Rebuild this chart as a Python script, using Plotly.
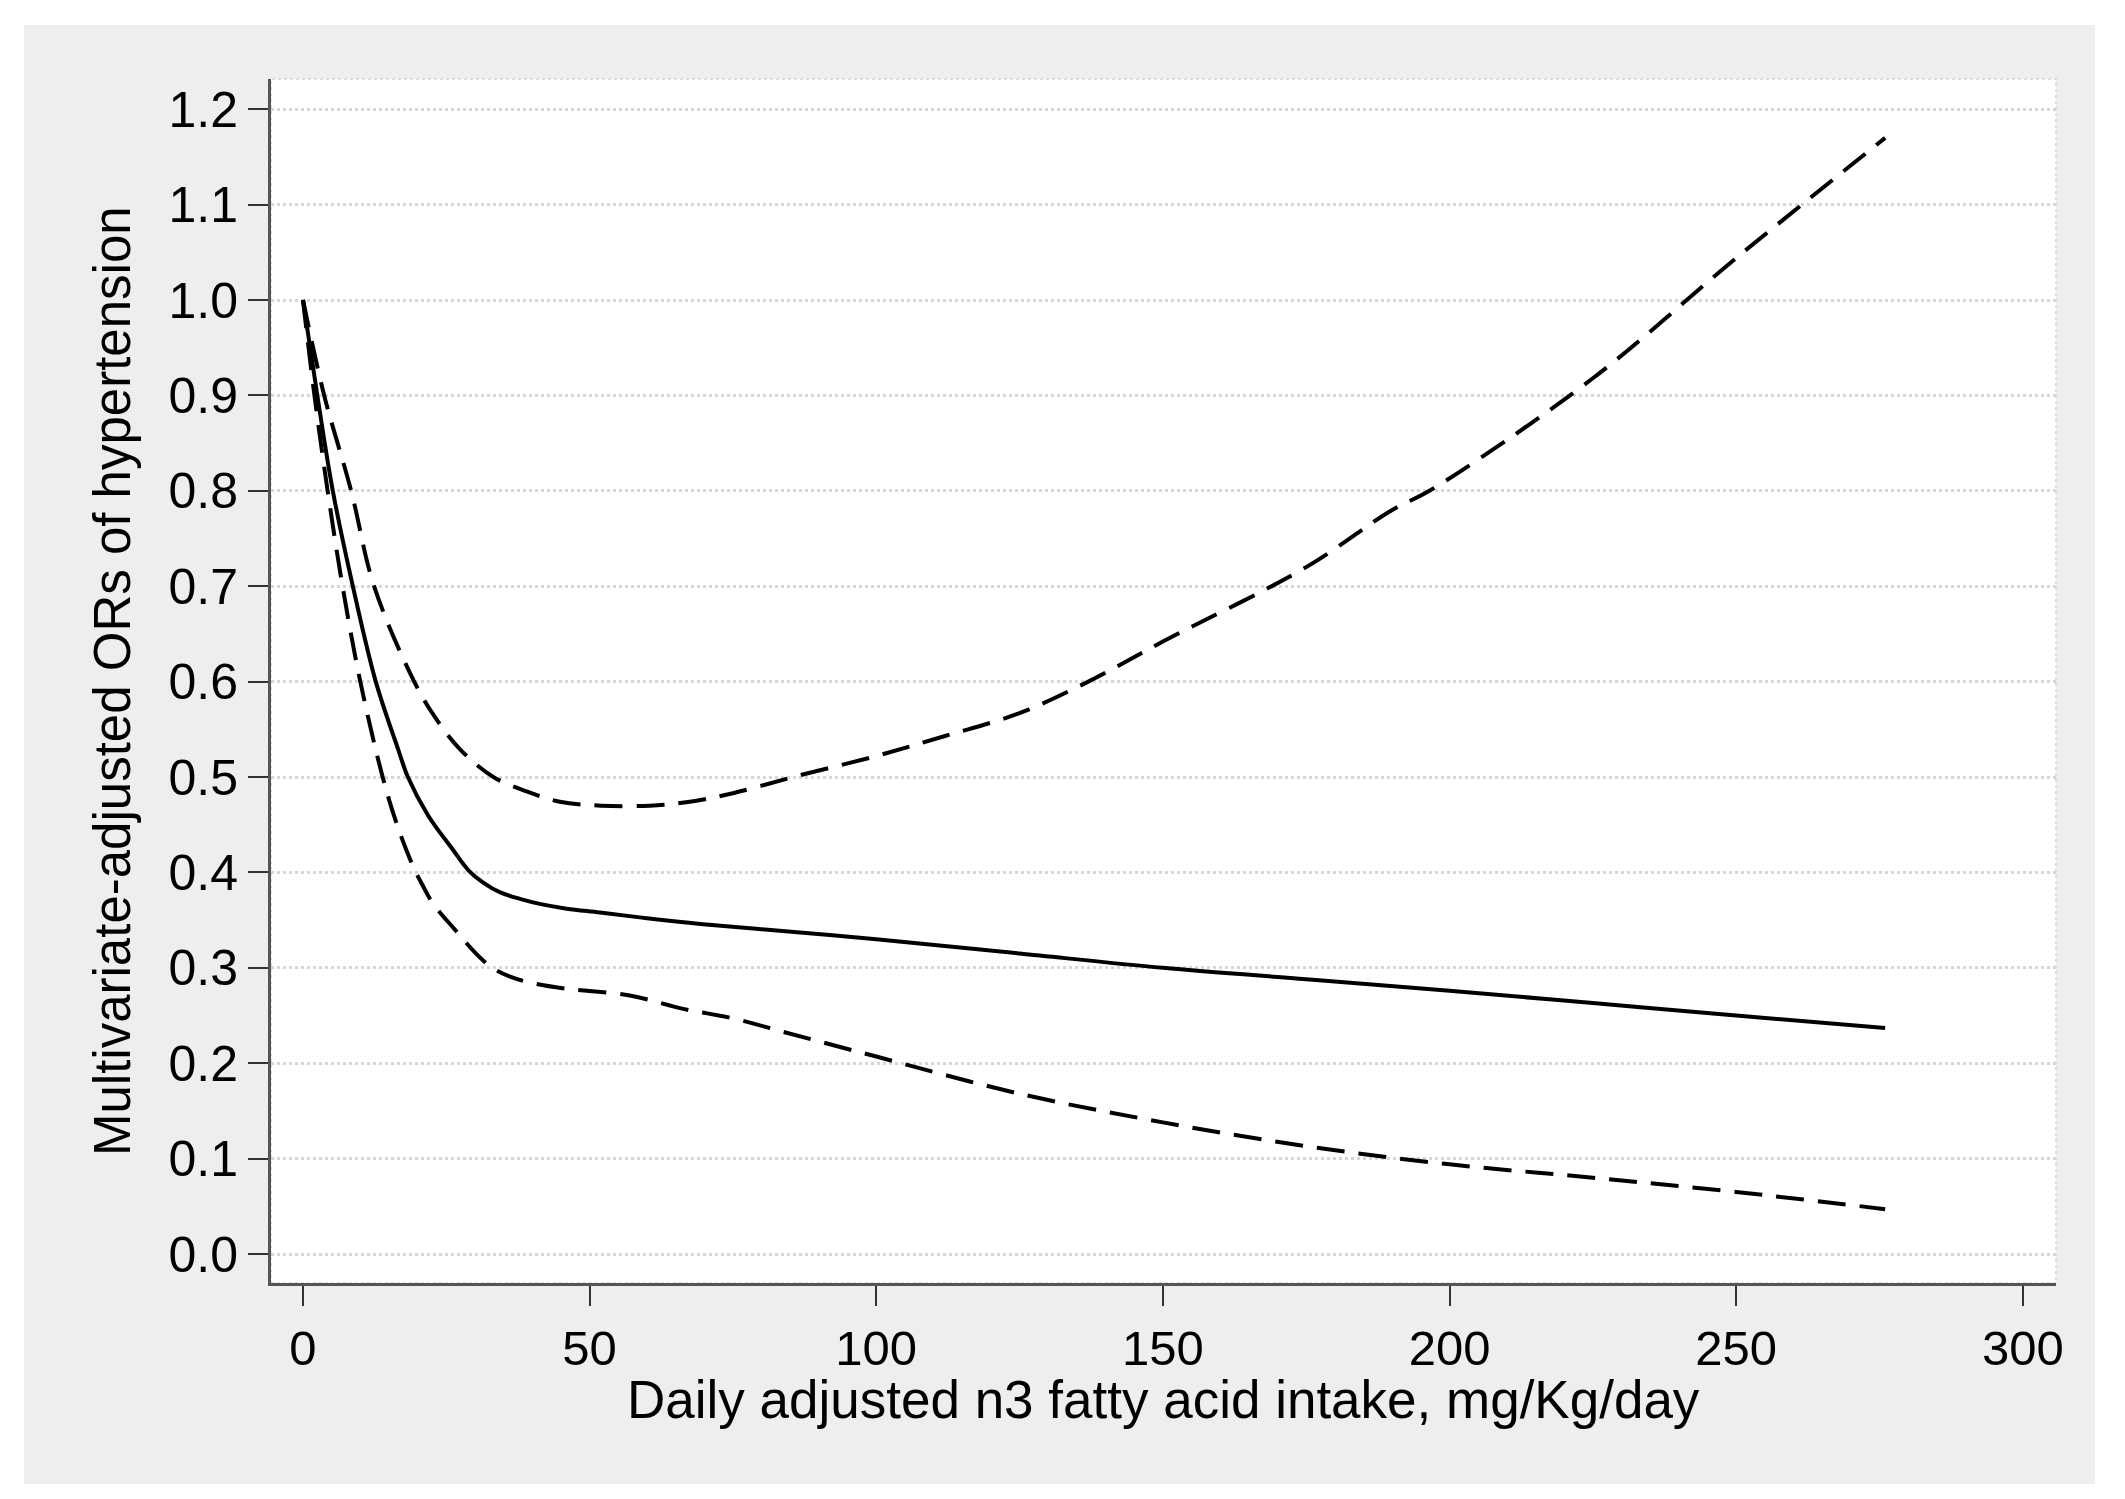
import plotly.graph_objects as go

# ---- data ----
or_x = [0, 2.5, 5.2, 8.7, 12.7, 16.6, 18.3, 21.8, 26, 28.9, 31.5, 34.4, 38, 41.3, 46, 51.8, 60, 69.3, 86.7, 100, 125, 150, 175, 200, 225, 250, 276]
or_y = [1.0, 0.9, 0.8, 0.7, 0.6, 0.529, 0.5, 0.46, 0.425, 0.402, 0.389, 0.379, 0.372, 0.367, 0.362, 0.358, 0.352, 0.346, 0.337, 0.33, 0.315, 0.30, 0.288, 0.276, 0.263, 0.25, 0.237]

lo_x = [0, 2, 4.3, 6.9, 10, 13.9, 16.4, 19.3, 21, 22.6, 26.5, 30.5, 33, 36, 40, 46, 57, 66.3, 75, 83.7, 100, 125, 150, 175, 200, 225, 250, 276]
lo_y = [1.0, 0.9, 0.8, 0.7, 0.6, 0.5, 0.45, 0.405, 0.385, 0.368, 0.34, 0.313, 0.3, 0.291, 0.284, 0.278, 0.271, 0.257, 0.247, 0.233, 0.207, 0.168, 0.138, 0.113, 0.094, 0.08, 0.065, 0.047]

up_x = [0, 3.7, 8.4, 12.4, 19.4, 23, 27.4, 33.2, 39, 44.8, 52, 60.5, 67.5, 75, 85.5, 100, 112, 125, 137, 150, 175, 190, 196.5, 225, 250, 276]
up_y = [1.0, 0.9, 0.8, 0.7, 0.6, 0.563, 0.529, 0.5, 0.485, 0.474, 0.470, 0.470, 0.474, 0.483, 0.5, 0.522, 0.543, 0.567, 0.6, 0.642, 0.72, 0.78, 0.80, 0.918, 1.044, 1.17]

x_ticks = [0, 50, 100, 150, 200, 250, 300]
y_ticks = [0.0, 0.1, 0.2, 0.3, 0.4, 0.5, 0.6, 0.7, 0.8, 0.9, 1.0, 1.1, 1.2]

x_title = "Daily adjusted n3 fatty acid intake, mg/Kg/day"
y_title = "Multivariate-adjusted ORs of hypertension"

FONT = "Liberation Sans, Arial, Helvetica, sans-serif"

fig = go.Figure()
dash_line = dict(color="black", width=4, dash="28px,14px", shape="spline", smoothing=1.0)
fig.add_trace(go.Scatter(x=up_x, y=up_y, mode="lines", line=dash_line, showlegend=False))
fig.add_trace(go.Scatter(x=lo_x, y=lo_y, mode="lines", line=dash_line, showlegend=False))
fig.add_trace(go.Scatter(x=or_x, y=or_y, mode="lines",
                         line=dict(color="black", width=4, shape="spline", smoothing=1.0), showlegend=False))

# page body has an 8px margin, so figure coords = reference coords - 8
W, H = 2109, 1483
L, R, T, B = 263, 2048, 71, 1275
pw, ph = R - L, B - T

def px(xp):
    return (xp - L) / pw

def py(yp):
    return (B - yp) / ph

fig.update_layout(
    width=W, height=H,
    margin=dict(l=L, r=W - R, t=T, b=H - B, pad=0),
    paper_bgcolor="white",
    plot_bgcolor="white",
    font=dict(family=FONT, color="black"),
    showlegend=False,
    shapes=[
        dict(type="rect", xref="paper", yref="paper", x0=px(16), x1=px(2087), y0=py(1476), y1=py(17),
             fillcolor="#eeeeee", line=dict(width=0), layer="below"),
        dict(type="rect", xref="paper", yref="paper", x0=0, x1=1, y0=0, y1=1,
             fillcolor="white", line=dict(color="#dddddd", width=2, dash="dot"), layer="below"),
    ],
    annotations=[
        dict(text=x_title, xref="paper", yref="paper", x=0.5, y=py(1391), xanchor="center", yanchor="middle",
             showarrow=False, font=dict(size=53, family=FONT, color="black")),
        dict(text=y_title, xref="paper", yref="paper", x=px(104), y=0.5, xanchor="center", yanchor="middle",
             textangle=-90, showarrow=False, font=dict(size=51, family=FONT, color="black")),
    ],
)

fig.update_xaxes(
    range=[-5.58, 305.8], tickvals=x_ticks, ticktext=[str(v) for v in x_ticks],
    showgrid=False, zeroline=False,
    showline=True, linecolor="#555555", linewidth=3,
    ticks="outside", ticklen=20, tickwidth=2, tickcolor="#333333",
    tickfont=dict(size=49, family=FONT, color="black"),
)
fig.update_yaxes(
    range=[-0.0304, 1.2317], tickvals=y_ticks, ticktext=[f"{v:.1f}" for v in y_ticks],
    showgrid=True, gridcolor="#d6d6d6", gridwidth=3, griddash="dot",
    zeroline=False,
    showline=True, linecolor="#555555", linewidth=3,
    ticks="outside", ticklen=20, tickwidth=2, tickcolor="#333333",
    tickfont=dict(size=50, family=FONT, color="black"),
)

fig.write_html("out.html")
